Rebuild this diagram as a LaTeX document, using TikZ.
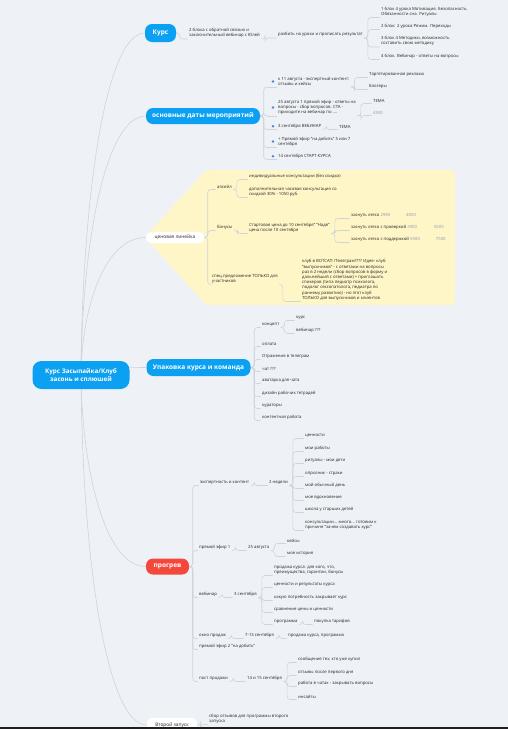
\documentclass[tikz,border=0pt]{standalone}
\usepackage{fontspec}
\setmainfont{Open Sans}
\usetikzlibrary{calc}
\pgfdeclarelayer{back}\pgfdeclarelayer{bg}
\pgfsetlayers{back,bg,main}
\definecolor{bgc}{HTML}{EEF2F7}
\definecolor{blu}{HTML}{0BA0F2}
\definecolor{redc}{HTML}{F5483C}
\definecolor{yel}{HTML}{FFF6C8}
\definecolor{linec}{HTML}{CDD4DD}
\definecolor{txt}{HTML}{262626}
\definecolor{prc}{HTML}{8C9BAE}
\definecolor{dotc}{HTML}{4F86C9}
\tikzset{
 leaf/.style={anchor=south west, inner xsep=1.5pt, inner ysep=1pt, font=\fontsize{4.25}{5.2}\selectfont, text=txt, align=left,
   append after command={[draw=linec,line width=0.5pt] (\tikzlastnode.south west) -- (\tikzlastnode.south east)}},
 pill/.style={rounded corners=7pt, fill=blu, text=white, font=\fontsize{6.5}{7.5}\selectfont\bfseries, inner xsep=2pt},
 wpill/.style={rounded corners=5pt, fill=white, text=txt, font=\fontsize{4.8}{5.8}\selectfont, inner xsep=2pt},
 conn/.style={draw=linec, line width=0.6pt, rounded corners=3pt},
 br/.style={to path={-- ++(3.5pt,0) |- (\tikztotarget)}},
}
\begin{document}
\begin{tikzpicture}[x=1pt,y=-1pt]
\begin{pgfonlayer}{back}
\fill[bgc] (0,0) rectangle (508,729);
\fill[yel, rounded corners=4pt] (145,237) -- (206,170) -- (455,170) -- (455,305) -- (206,305) -- cycle;
\end{pgfonlayer}
\useasboundingbox (0,0) rectangle (508,729);

% root and main branches
\node[pill, rounded corners=9pt, minimum width=97pt, minimum height=28pt, align=center, font=\fontsize{6.3}{7.6}\selectfont\bfseries] (root) at (81,375) {Курс Засыпайка/Клуб\\засонь и сплюшей};
\node[pill, minimum width=31pt, minimum height=18pt] (kurs) at (160.5,33) {Курс};
\node[pill, minimum width=114pt, minimum height=16pt] (dates) at (203,116) {основные даты мероприятий};
\node[wpill, minimum width=58pt, minimum height=10pt] (price) at (175,237.5) {ценовая линейка};
\node[pill, minimum width=104pt, minimum height=17pt] (pack) at (198.5,367.5) {Упаковка курса и команда};
\node[pill, fill=redc, minimum width=43pt, minimum height=16pt] (prog) at (167.5,566.5) {прогрев};
\node[wpill, minimum width=50pt, minimum height=14pt] (second) at (172,725) {Второй запуск};

\begin{pgfonlayer}{bg}
\draw[conn] (root.center) .. controls (82,203) and (105,33) .. (kurs.west);
\draw[conn] (root.center) .. controls (82,245) and (105,116) .. (dates.west);
\draw[conn] (root.center) .. controls (82,306) and (105,237.5) .. (price.west);
\draw[conn] (root.center) .. controls (82,371) and (105,367.5) .. (pack.west);
\draw[conn] (root.center) .. controls (82,470) and (105,566.5) .. (prog.west);
\draw[conn] (root.center) .. controls (82,549) and (105,725) .. (second.west);
\end{pgfonlayer}

% Kurs
\node[leaf] (k1) at (187.5,39) {2 блока с обратной связью и\\заключительный вебинар с Юлей};
\node[leaf] (k2) at (276.5,38) {разбить на уроки и прописать результат};
\node[leaf] (k3) at (379.5,17.5) {1 блок 4 урока Мотивация. Безопасность.\\Обязанности сна. Ритуалы};
\node[leaf] (k4) at (379.5,29.5) {2 блок: 2 урока Режим. Переходы};
\node[leaf] (k5) at (379.5,47) {3 блок 4 Методики, возможность\\составить свою методику};
\node[leaf] (k6) at (379.5,59.5) {4 блок. Вебинар - ответы на вопросы};

% dates
\node[leaf] (d1) at (276.5,87) {к 11 августа - экспертный контент:\\отзывы и кейсы};
\node[leaf] (d1a) at (367.5,77.5) {Таргетированная реклама};
\node[leaf] (d1b) at (367.5,89.5) {Блогеры};
\node[leaf] (d2) at (276.5,116) {25 августа 1 прямой эфир - ответы на\\вопросы - сбор вопросов. CTA -\\приходите на вебинар по ....};
\node[leaf] (d2a) at (371.5,103.5) {ТЕМА};
\node[leaf] (d2b) at (371.5,115.5) {\color{prc}4500};
\node[leaf] (d3) at (276.5,129.5) {3 сентября ВЕБИНАР};
\node[leaf] (d3a) at (337.5,129.5) {ТЕМА};
\node[leaf] (d4) at (276.5,147.5) {+ Прямой эфир "на добить" 5 или 7\\сентября};
\node[leaf] (d5) at (276.5,159.5) {14 сентября СТАРТ КУРСА};
\foreach \d in {d1,d2,d3,d4,d5}{
  \coordinate (\d s) at ([xshift=-8.5pt]\d.south west);
  \draw[linec, line width=0.5pt] (\d s) -- (\d.south west);
  \fill[dotc] ([xshift=-3.5pt]\d.west) circle (1.4pt);
}

% price
\node[leaf] (p1) at (215.5,189.5) {апсейл};
\node[leaf] (p1a) at (247.5,179.5) {индивидуальные консультации (без скидки)};
\node[leaf] (p1b) at (247.5,197.5) {дополнительная часовая консультация со\\скидкой 30\% - 1050 руб.};
\node[leaf] (p2) at (215.5,230.5) {бонусы};
\node[leaf] (p2a) at (247.5,233.5) {Стартовая цена до 10 сентября" "Надя"\\цена после 10 сентября};
\node[leaf] (p2b) at (349.5,218.5) {заснуть легко {\color{prc}2980}\hspace{16pt}{\color{prc}4800}};
\node[leaf] (p2c) at (349.5,230.5) {заснуть легко с проверкой {\color{prc}3900}\hspace{17pt}{\color{prc}5500}};
\node[leaf] (p2d) at (349.5,242.5) {заснуть легко с поддержкой {\color{prc}5980}\hspace{16pt}{\color{prc}7500}};
\node[leaf] (p3) at (210.5,284.5) {спец.предложение ТОЛЬКО для\\участников};
\node[leaf] (p3a) at (300.5,301.5) {клуб в ВОТСАП /Телеграм???? Идея- клуб\\"выпускников" - с ответами на вопросы\\раз в 2 недели (сбор вопросов в форму и\\дальнейший с ответами) + приглашать\\спикеров (типа педиатр психолога,\\подолог сексопатолога, педиатра по\\раннему развитию) - но этот клуб\\ТОЛЬКО для выпускников и клиентов};

% pack
\node[leaf] (u1) at (260.5,327.5) {концепт};
\node[leaf] (u1a) at (294.5,320.5) {курс};
\node[leaf] (u1b) at (294.5,333.5) {вебинар ???};
\node[leaf] (u2) at (260.5,346.5) {оплата};
\node[leaf] (u3) at (260.5,359.5) {Отражение в телеграм};
\node[leaf] (u4) at (260.5,371.5) {чат ???};
\node[leaf] (u5) at (260.5,383.5) {аватарка для чата};
\node[leaf] (u6) at (260.5,396.5) {дизайн рабочих тетрадей};
\node[leaf] (u7) at (260.5,408.5) {кураторы};
\node[leaf] (u8) at (260.5,420.5) {контентная работа};

% prog
\node[leaf] (g1) at (198.5,485.5) {экспертность и контент};
\node[leaf] (g1a) at (267.5,485.5) {2 недели};
\node[leaf] (g1b) at (303.5,438.5) {ценности};
\node[leaf] (g1c) at (303.5,451.5) {мои работы};
\node[leaf] (g1d) at (303.5,463.5) {ритуалы - мои дети};
\node[leaf] (g1e) at (303.5,476.5) {опросник - страхи};
\node[leaf] (g1f) at (303.5,488.5) {мой обычный день};
\node[leaf] (g1g) at (303.5,500.5) {мое вдохновение};
\node[leaf] (g1h) at (303.5,512.5) {школа у старших детей};
\node[leaf] (g1i) at (303.5,530.5) {консультации... много... готовим к\\причине "зачем создавать курс"};
\node[leaf] (g2) at (197.5,550.5) {прямой эфир 1};
\node[leaf] (g2a) at (246.5,550.5) {25 августа};
\node[leaf] (g2b) at (285.5,543.5) {кейсы};
\node[leaf] (g2c) at (285.5,556.5) {моя история};
\node[leaf] (g3) at (197.5,597.5) {вебинар};
\node[leaf] (g3a) at (232.5,597.5) {3 сентября};
\node[leaf] (g3b) at (272.5,575.5) {продажа курса: для кого, что,\\преимущества, гарантии, бонусы};
\node[leaf] (g3c) at (272.5,587.5) {ценности и результаты курса};
\node[leaf] (g3d) at (272.5,600.5) {какую потребность закрывает курс};
\node[leaf] (g3e) at (272.5,612.5) {сравнение цены и ценности};
\node[leaf] (g3f) at (272.5,624.5) {программа};
\node[leaf] (g3g) at (312.5,624.5) {покупка тарифов};
\node[leaf] (g4) at (197.5,638.5) {окно продаж};
\node[leaf] (g4a) at (243.5,638.5) {7-13 сентября};
\node[leaf] (g4b) at (286.5,638.5) {продажа курса, программа};
\node[leaf] (g5) at (197.5,649.5) {прямой эфир 2 "на добить"};
\node[leaf] (g6) at (197.5,681.5) {пост продажи};
\node[leaf] (g6a) at (245.5,681.5) {14 и 15 сентября};
\node[leaf] (g6b) at (296.5,662.5) {сообщения тех, кто уже купил};
\node[leaf] (g6c) at (296.5,675.5) {отзывы после первого дня};
\node[leaf] (g6d) at (296.5,686.5) {работа в чатах - закрывать вопросы};
\node[leaf] (g6e) at (296.5,699.5) {инсайты};

% second
\node[leaf] (s1) at (207.5,724.5) {сбор отзывов для программы второго\\запуска};

\begin{pgfonlayer}{bg}
\draw[conn] (kurs.east) to[br] (k1.south west);
\draw[conn] (k1.south east) to[br] (k2.south west);
\foreach \c in {k3,k4,k5,k6} \draw[conn] (k2.south east) to[br] (\c.south west);
\foreach \c in {d1,d2,d3,d4,d5} \draw[conn] (dates.east) to[br] (\c s);
\foreach \c in {d1a,d1b} \draw[conn] (d1.south east) to[br] (\c.south west);
\foreach \c in {d2a,d2b} \draw[conn] (d2.south east) to[br] (\c.south west);
\draw[conn] (d3.south east) to[br] (d3a.south west);
\foreach \c in {p1,p2,p3} \draw[conn] (price.east) to[br] (\c.south west);
\foreach \c in {p1a,p1b} \draw[conn] (p1.south east) to[br] (\c.south west);
\draw[conn] (p2.south east) to[br] (p2a.south west);
\foreach \c in {p2b,p2c,p2d} \draw[conn] (p2a.south east) to[br] (\c.south west);
\draw[conn] (p3.south east) to[br] (p3a.south west);
\foreach \c in {u1,u2,u3,u4,u5,u6,u7,u8} \draw[conn] (pack.east) to[br] (\c.south west);
\foreach \c in {u1a,u1b} \draw[conn] (u1.south east) to[br] (\c.south west);
\foreach \c in {g1,g2,g3,g4,g5,g6} \draw[conn] (prog.east) to[br] (\c.south west);
\draw[conn] (g1.south east) to[br] (g1a.south west);
\foreach \c in {g1b,g1c,g1d,g1e,g1f,g1g,g1h,g1i} \draw[conn] (g1a.south east) to[br] (\c.south west);
\draw[conn] (g2.south east) to[br] (g2a.south west);
\foreach \c in {g2b,g2c} \draw[conn] (g2a.south east) to[br] (\c.south west);
\draw[conn] (g3.south east) to[br] (g3a.south west);
\foreach \c in {g3b,g3c,g3d,g3e,g3f} \draw[conn] (g3a.south east) to[br] (\c.south west);
\draw[conn] (g3f.south east) to[br] (g3g.south west);
\draw[conn] (g4.south east) to[br] (g4a.south west);
\draw[conn] (g4a.south east) to[br] (g4b.south west);
\draw[conn] (g6.south east) to[br] (g6a.south west);
\foreach \c in {g6b,g6c,g6d,g6e} \draw[conn] (g6a.south east) to[br] (\c.south west);
\draw[conn] (second.east) to[br] (s1.south west);
\end{pgfonlayer}

\fill[black!88] (0,726.5) rectangle (508,729);
\end{tikzpicture}
\end{document}
